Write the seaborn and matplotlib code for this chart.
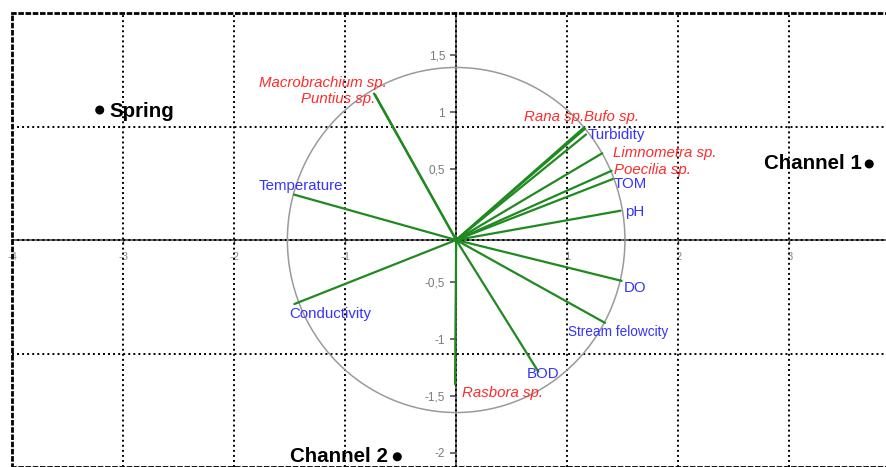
import numpy as np
import pandas as pd
import matplotlib
matplotlib.use("Agg")
import matplotlib.pyplot as plt
from matplotlib.patches import Circle
from matplotlib.ticker import FuncFormatter
import seaborn as sns

# ---- data -------------------------------------------------------------
species = ["Macrobrachium sp.", "Puntius sp.", "Rana sp.", "Bufo sp.",
           "Limnometra sp.", "Poecilia sp.", "Rasbora sp."]
species_x = [-0.74, -0.73, 1.15, 1.16, 1.315, 1.40, -0.01]
species_y = [1.29, 1.28, 0.99, 0.98, 0.764, 0.61, -1.27]

env_vars = ["Turbidity", "TOM", "pH", "Temperature", "Conductivity",
            "DO", "Stream felowcity", "BOD"]
env_x = [1.17, 1.41, 1.48, -1.46, -1.457, 1.49, 1.34, 0.74]
env_y = [0.93, 0.537, 0.258, 0.40, -0.564, -0.36, -0.73, -1.16]

sites = ["Spring", "Channel 1", "Channel 2"]
site_x = [-3.21, 3.72, -0.53]
site_y = [1.145, 0.67, -1.91]

circle_radius = 1.52
x_ticks = [-4, -3, -2, -1, 1, 2, 3]
y_ticks = [-2, -1.5, -1, -0.5, 0.5, 1, 1.5]
y_tick_shift = 0.127          # the printed y scale sits slightly above the origin

# ---- label layout (data coords, horizontal alignment) -----------------
species_label_pos = {
    "Macrobrachium sp.": (-1.78, 1.386, "left"),
    "Puntius sp.": (-0.73, 1.24, "right"),
    "Rana sp.": (1.15, 1.08, "right"),
    "Bufo sp.": (1.155, 1.08, "left"),
    "Limnometra sp.": (1.41, 0.77, "left"),
    "Poecilia sp.": (1.42, 0.62, "left"),
    "Rasbora sp.": (0.05, -1.345, "left"),
}
env_label_pos = {
    "Turbidity": (1.186, 0.925, "left", 10.8),
    "TOM": (1.42, 0.49, "left", 10.8),
    "pH": (1.52, 0.244, "left", 10.8),
    "Temperature": (-1.78, 0.476, "left", 10.8),
    "Conductivity": (-1.50, -0.652, "left", 10.8),
    "DO": (1.51, -0.426, "left", 10.8),
    "Stream felowcity": (1.006, -0.81, "left", 9.8),
    "BOD": (0.64, -1.18, "left", 10.8),
}
site_label_pos = {
    "Spring": (-3.12, 1.13, "left"),
    "Channel 1": (3.655, 0.67, "right"),
    "Channel 2": (-0.615, -1.91, "right"),
}

RED = "#ff2b2b"
BLUE = "#3434ff"
GREEN = "#1f8a1f"
AXIS_GREY = "#555555"
GRID_STYLE = (0, (1, 1.6))

sns.set_style("white")
plt.rcParams["font.family"] = ["Liberation Sans", "DejaVu Sans"]

fig = plt.figure(figsize=(8.87, 4.67), dpi=100)
xlim = (-4.0, 3.88)
ylim = (-2.0, 2.0)
ax = fig.add_axes([12 / 887, 0.0, 1 - 12 / 887, 454 / 467])
ax.set_xlim(*xlim)
ax.set_ylim(*ylim)

# frame: dotted border on top, left and bottom
for side in ("top", "left", "bottom"):
    ax.spines[side].set_linestyle(GRID_STYLE)
    ax.spines[side].set_linewidth(2.0)
    ax.spines[side].set_color("black")
ax.spines["right"].set_visible(False)
ax.tick_params(left=False, bottom=False, labelleft=False, labelbottom=False)

# dotted grid
for gx in [-3, -2, -1, 0, 1, 2, 3]:
    ax.axvline(gx, color="black", lw=1.4, ls=GRID_STYLE, zorder=1)
for gy in [-1, 0, 1]:
    ax.axhline(gy, color="black", lw=1.4, ls=GRID_STYLE, zorder=1)

# correlation circle
ax.add_patch(Circle((0, 0), circle_radius, fill=False, ec="#9a9a9a", lw=1.1, zorder=2))

# vectors from the origin
rows = []
for name, x, y in zip(species + env_vars, species_x + env_x, species_y + env_y):
    rows.append({"name": name, "x": 0.0, "y": 0.0})
    rows.append({"name": name, "x": x, "y": y})
vec = pd.DataFrame(rows)
sns.lineplot(data=vec, x="x", y="y", units="name", estimator=None, sort=False,
             color=GREEN, lw=1.6, ax=ax, zorder=3, legend=False)

# site points
sns.scatterplot(x=site_x, y=site_y, color="black", s=42, edgecolor="none",
                ax=ax, zorder=5, legend=False)

# labels
for name in species:
    lx, ly, ha = species_label_pos[name]
    ax.text(lx, ly, name, color=RED, style="italic", fontsize=10.8,
            ha=ha, va="center", zorder=6)
for name in env_vars:
    lx, ly, ha, fs = env_label_pos[name]
    ax.text(lx, ly, name, color=BLUE, fontsize=fs, ha=ha, va="center", zorder=6)
for name in sites:
    lx, ly, ha = site_label_pos[name]
    ax.text(lx, ly, name, color="black", fontweight="bold", fontsize=14.8,
            ha=ha, va="center", zorder=6)

ax.set_xlabel("")
ax.set_ylabel("")

# axes through the origin
comma = FuncFormatter(lambda v, _: ("%g" % v).replace(".", ","))

x_zero = (0 - ylim[0]) / (ylim[1] - ylim[0])
secx = ax.secondary_xaxis(x_zero)
secx.set_xticks(x_ticks)
secx.xaxis.set_major_formatter(comma)
secx.xaxis.set_ticks_position("bottom")
secx.tick_params(axis="x", bottom=True, labelbottom=True, top=False, labeltop=False,
                 direction="out", length=3, width=1, color=AXIS_GREY,
                 labelsize=8, labelcolor="#8a8a8a", pad=6)
for sp in secx.spines.values():
    sp.set_color(AXIS_GREY)
    sp.set_linewidth(1.3)

y_zero = (0 - xlim[0]) / (xlim[1] - xlim[0])
secy = ax.secondary_yaxis(y_zero, functions=(lambda y: y - y_tick_shift,
                                             lambda y: y + y_tick_shift))
secy.set_yticks(y_ticks)
secy.yaxis.set_major_formatter(comma)
secy.yaxis.set_ticks_position("left")
secy.tick_params(axis="y", left=True, labelleft=True, right=False, labelright=False,
                 direction="out", length=4, width=1.2, color=AXIS_GREY,
                 labelsize=8.5, labelcolor="#7a7a7a", pad=4)
for sp in secy.spines.values():
    sp.set_color(AXIS_GREY)
    sp.set_linewidth(1.3)

fig.savefig("out.png", dpi=100)
